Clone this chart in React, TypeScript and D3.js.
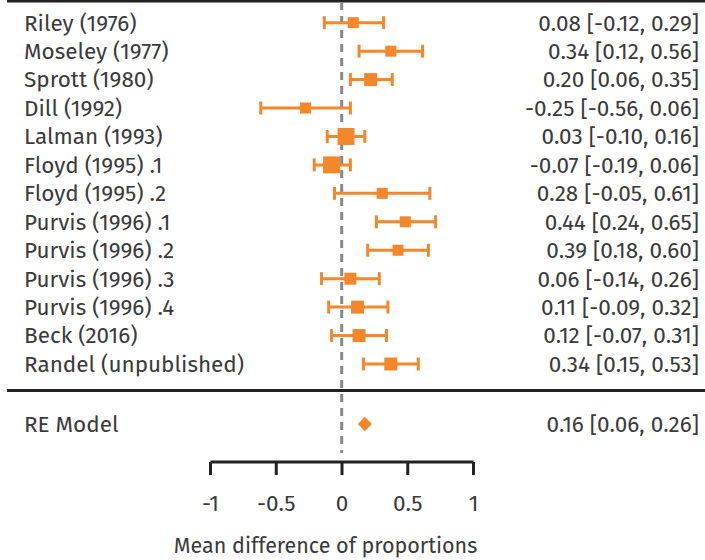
import React from "react";
import * as d3 from "d3";

const studies = [
  "Riley (1976)", "Moseley (1977)", "Sprott (1980)", "Dill (1992)", "Lalman (1993)",
  "Floyd (1995) .1", "Floyd (1995) .2", "Purvis (1996) .1", "Purvis (1996) .2",
  "Purvis (1996) .3", "Purvis (1996) .4", "Beck (2016)", "Randel (unpublished)",
];
const estimates = [0.08, 0.34, 0.2, -0.25, 0.03, -0.07, 0.28, 0.44, 0.39, 0.06, 0.11, 0.12, 0.34];
const lower = [-0.12, 0.12, 0.06, -0.56, -0.1, -0.19, -0.05, 0.24, 0.18, -0.14, -0.09, -0.07, 0.15];
const upper = [0.29, 0.56, 0.35, 0.06, 0.16, 0.06, 0.61, 0.65, 0.6, 0.26, 0.32, 0.31, 0.53];
const weights = [6, 6, 8, 6, 12, 12, 6, 6, 6, 7, 8, 8, 8];

const reModel = { label: "RE Model", est: 0.16, lo: 0.06, hi: 0.26 };
const axisTicks = [-1, -0.5, 0, 0.5, 1];
const axisTitle = "Mean difference of proportions";

const W = 705, H = 560;
const orange = "#f4862b";
const ink = "#3a3a3a";
const font = "'Fira Sans', 'Open Sans', sans-serif";
const fs = 22.5;

const fmt = (v: number) => d3.format(".2f")(v).replace("−", "-");
const ciText = (e: number, l: number, u: number) => `${fmt(e)} [${fmt(l)}, ${fmt(u)}]`;

export default function App() {
  // marks and axis use slightly different spans, as in the reference
  const x = d3.scaleLinear().domain([-1, 1]).range([341.7 - 144.5, 341.7 + 144.5]);
  const xAxis = d3.scaleLinear().domain([-1, 1]).range([210.5, 473.5]);
  const y = d3.scaleLinear().domain([0, 12]).range([22.7, 364]);
  const size = d3.scaleLinear().domain([6, 12]).range([11, 17]);
  const reY = 424;
  const axisY = 462;
  const capH = 13;
  const diamond = d3.symbol().type(d3.symbolDiamond2).size(130)();

  return (
    <svg width={W} height={H} style={{ position: "absolute", left: 0, top: 0 }} fontFamily={font}>
      <rect width={W} height={H} fill="#fff" />
      <line x1={7} x2={W} y1={0} y2={0} stroke="#222" strokeWidth={5} />
      <line x1={7} x2={W} y1={390.5} y2={390.5} stroke="#222" strokeWidth={3} />
      <line x1={x(0)} x2={x(0)} y1={2} y2={453} stroke="#888" strokeWidth={3} strokeDasharray="8,6" />

      {studies.map((s, i) => {
        const cy = y(i);
        const sz = size(weights[i]);
        return (
          <g key={s}>
            <text x={24} y={cy} dy="0.35em" fontSize={fs} fill={ink}>{s}</text>
            <text x={699} y={cy} dy="0.35em" fontSize={fs} fill={ink} textAnchor="end">
              {ciText(estimates[i], lower[i], upper[i])}
            </text>
            <g stroke={orange} strokeWidth={3}>
              <line x1={x(lower[i])} x2={x(upper[i])} y1={cy} y2={cy} />
              <line x1={x(lower[i])} x2={x(lower[i])} y1={cy - capH / 2} y2={cy + capH / 2} />
              <line x1={x(upper[i])} x2={x(upper[i])} y1={cy - capH / 2} y2={cy + capH / 2} />
            </g>
            <rect x={x(estimates[i]) - sz / 2} y={cy - sz / 2} width={sz} height={sz} fill={orange} />
          </g>
        );
      })}

      <text x={24} y={reY} dy="0.35em" fontSize={fs} fill={ink}>{reModel.label}</text>
      <text x={699} y={reY} dy="0.35em" fontSize={fs} fill={ink} textAnchor="end">
        {ciText(reModel.est, reModel.lo, reModel.hi)}
      </text>
      <path d={diamond ?? ""} transform={`translate(${x(reModel.est)},${reY})`} fill={orange} />

      <g>
        <line x1={xAxis(-1)} x2={xAxis(1)} y1={axisY} y2={axisY} stroke="#222" strokeWidth={3} />
        {axisTicks.map((t) => (
          <g key={t}>
            <line x1={xAxis(t)} x2={xAxis(t)} y1={axisY} y2={axisY + 13} stroke="#222" strokeWidth={3} />
            <text x={xAxis(t)} y={503} dy="0.35em" fontSize={fs} fill={ink} textAnchor="middle">
              {String(t)}
            </text>
          </g>
        ))}
        <text x={325.5} y={545.5} dy="0.35em" fontSize={21.5} fill={ink} textAnchor="middle">{axisTitle}</text>
      </g>
    </svg>
  );
}
